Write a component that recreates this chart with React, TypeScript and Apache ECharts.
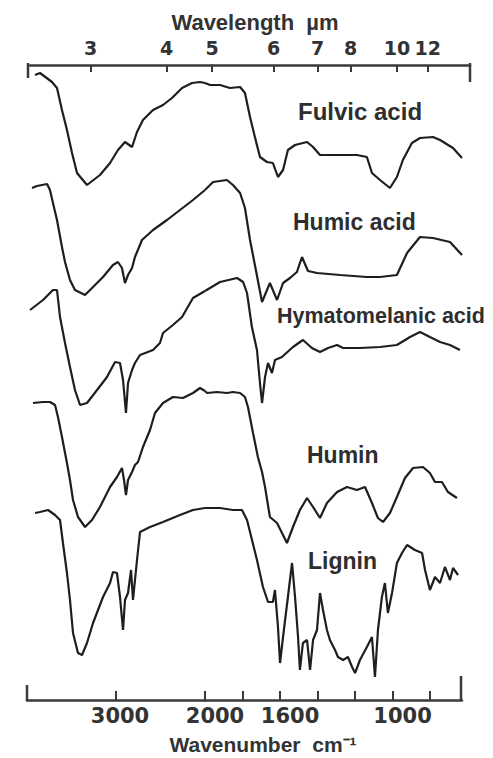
import React, { useEffect, useRef } from "react";
import * as echarts from "echarts";

// Spectra: [wavenumber (cm-1), offset transmittance (arbitrary units)]
const fulvicAcid: number[][] = [
  [3910, 625], [3854, 627], [3719, 618], [3663, 612], [3607, 590], [3551, 570], [3494, 547], [3438, 527],
  [3326, 515], [3180, 525], [3067, 537], [2978, 550], [2899, 558], [2820, 553], [2764, 568], [2697, 580],
  [2584, 590], [2472, 595], [2371, 602], [2258, 612], [2146, 617], [2056, 618], [2000, 617],
  [1973, 615], [1920, 615], [1867, 612], [1813, 613], [1787, 607], [1760, 583], [1734, 563], [1707, 543],
  [1670, 538], [1638, 537], [1611, 523], [1584, 530], [1558, 550], [1520, 555], [1456, 558], [1424, 553],
  [1387, 545], [1296, 545], [1190, 545], [1137, 543], [1110, 527], [1067, 520], [1014, 512], [977, 523],
  [945, 540], [897, 557], [854, 562], [785, 563], [747, 560], [678, 552], [630, 542],
];

const humicAcid: number[][] = [
  [3944, 512], [3888, 514], [3775, 516], [3742, 510], [3708, 497], [3663, 480], [3607, 453], [3573, 438],
  [3517, 420], [3461, 410], [3348, 405], [3258, 413], [3146, 423], [3034, 435], [2978, 438], [2933, 432],
  [2899, 417], [2865, 425], [2820, 432], [2787, 443], [2708, 460], [2584, 470], [2427, 480], [2281, 490],
  [2135, 500], [2000, 510], [1957, 518], [1883, 520], [1851, 515], [1813, 507], [1787, 492], [1760, 460],
  [1734, 435], [1696, 398], [1654, 417], [1616, 400], [1584, 417], [1547, 422], [1510, 428], [1483, 443],
  [1451, 429], [1403, 427], [1280, 425], [1137, 423], [1067, 423], [977, 425], [945, 438], [923, 447],
  [854, 463], [785, 462], [694, 458], [630, 445],
];

const hymatomelanicAcid: number[][] = [
  [3966, 390], [3820, 400], [3708, 410], [3663, 410], [3629, 383], [3573, 357], [3517, 333], [3461, 310],
  [3404, 295], [3326, 297], [3213, 310], [3101, 323], [3011, 338], [2955, 337], [2921, 320], [2888, 287],
  [2865, 317], [2820, 330], [2787, 337], [2730, 345], [2584, 350], [2506, 357], [2472, 367], [2360, 375],
  [2258, 383], [2135, 402], [2000, 409], [1920, 418], [1829, 422], [1797, 418], [1776, 407], [1750, 373],
  [1723, 350], [1707, 317], [1696, 297], [1680, 323], [1664, 337], [1643, 327], [1627, 340], [1590, 343],
  [1531, 353], [1478, 360], [1430, 352], [1387, 348], [1344, 352], [1296, 355], [1264, 352], [1174, 352],
  [1067, 353], [977, 355], [907, 363], [854, 368], [801, 363], [747, 358], [694, 355], [641, 350],
];

const humin: number[][] = [
  [3933, 297], [3820, 298], [3742, 298], [3685, 295], [3652, 283], [3607, 263], [3551, 237], [3517, 220],
  [3483, 200], [3427, 183], [3348, 173], [3270, 180], [3180, 193], [3067, 213], [2989, 223], [2933, 232],
  [2910, 220], [2888, 205], [2865, 220], [2820, 228], [2787, 235], [2753, 238], [2697, 253], [2618, 270],
  [2562, 287], [2472, 297], [2360, 303], [2247, 302], [2135, 307], [2056, 312], [2000, 309], [1989, 307],
  [1936, 308], [1883, 307], [1851, 308], [1813, 307], [1787, 303], [1771, 293], [1744, 267], [1718, 243],
  [1696, 228], [1680, 213], [1654, 183], [1616, 177], [1563, 157], [1531, 173], [1494, 190], [1456, 202],
  [1424, 193], [1387, 182], [1350, 197], [1296, 208], [1243, 213], [1190, 210], [1147, 213], [1110, 197],
  [1078, 182], [1051, 178], [1014, 187], [977, 203], [934, 222], [891, 232], [838, 233], [801, 227],
  [774, 218], [737, 218], [705, 208], [657, 202],
];

const lignin: number[][] = [
  [3910, 187], [3854, 188], [3764, 190], [3685, 185], [3629, 180], [3596, 157], [3551, 127], [3517, 100],
  [3483, 67], [3427, 47], [3382, 45], [3326, 57], [3258, 77], [3146, 103], [3067, 117], [3034, 128],
  [2989, 127], [2955, 103], [2921, 70], [2899, 100], [2865, 107], [2831, 130], [2809, 100], [2764, 140],
  [2730, 168], [2618, 173], [2472, 178], [2281, 185], [2135, 190], [2000, 192], [1920, 192], [1851, 190],
  [1803, 190], [1776, 180], [1760, 168], [1723, 140], [1691, 113], [1664, 98], [1638, 98], [1627, 110],
  [1611, 73], [1600, 37], [1584, 63], [1558, 103], [1536, 137], [1520, 103], [1504, 63], [1494, 30],
  [1478, 57], [1456, 60], [1440, 30], [1424, 60], [1403, 70], [1387, 107], [1371, 90], [1350, 70],
  [1334, 60], [1307, 50], [1291, 43], [1264, 40], [1238, 43], [1216, 33], [1200, 27], [1174, 40],
  [1137, 53], [1110, 63], [1094, 23], [1078, 70], [1057, 103], [1041, 117], [1025, 87], [1003, 107],
  [977, 137], [950, 147], [923, 155], [881, 150], [843, 147], [827, 130], [801, 110], [774, 123],
  [747, 117], [721, 133], [694, 120], [678, 132], [651, 125],
];

const spectrumNames = ["Fulvic acid", "Humic acid", "Hymatomelanic acid", "Humin", "Lignin"];
const spectra = [fulvicAcid, humicAcid, hymatomelanicAcid, humin, lignin];

// Axis ticks
const wavenumberTicksHigh = [3000];
const wavenumberLabelsHigh = [3000];
const wavenumberTicksLow = [2000, 1800, 1600, 1400, 1200, 1000, 800];
const wavenumberLabelsLow = [2000, 1600, 1000];
const wavelengthsHigh = [3, 4]; // µm, region above 2000 cm-1
const wavelengthsLow = [5, 6, 7, 8, 10, 12]; // µm

const toWn = (um: number) => 10000 / um;

export default function App() {
  const ref = useRef<HTMLDivElement>(null);

  useEffect(() => {
    if (!ref.current) return;
    const chart = echarts.init(ref.current, undefined, { renderer: "svg" });

    const axisColor = "#3a3a3a";
    const lineColor = "#1e1e1e";
    const labelFont = "'Liberation Sans', Arial, sans-serif";
    const digitFont = "'DejaVu Sans', sans-serif";

    const yAxes = [0, 1, 2, 3].map((g) => ({
      gridIndex: g,
      type: "value",
      min: 0,
      max: 635,
      show: false,
    }));

    const bottomLabel = {
      fontFamily: digitFont,
      fontWeight: "bold",
      fontSize: 21,
      color: "#333",
      margin: 5,
      formatter: (v: number) => String(Math.round(v)),
    };
    const topLabel = {
      fontFamily: digitFont,
      fontWeight: "bold",
      fontSize: 19,
      color: "#333",
      margin: 8,
      formatter: (v: number) => String(Math.round(10000 / v)),
    };

    const series: any[] = [];
    spectra.forEach((pts, i) => {
      series.push({
        name: spectrumNames[i],
        type: "line",
        xAxisIndex: 0,
        yAxisIndex: 0,
        data: pts.filter((p) => p[0] >= 2000),
        showSymbol: false,
        lineStyle: { color: lineColor, width: 2.2 },
        silent: true,
      });
      series.push({
        name: spectrumNames[i],
        type: "line",
        xAxisIndex: 1,
        yAxisIndex: 1,
        data: pts.filter((p) => p[0] <= 2000),
        showSymbol: false,
        lineStyle: { color: lineColor, width: 2.2 },
        silent: true,
      });
    });

    const spectrumLabels = [
      { text: "Fulvic acid", x: 298, y: 111, size: 24 },
      { text: "Humic acid", x: 293, y: 222, size: 23 },
      { text: "Hymatomelanic acid", x: 277, y: 316, size: 21.5 },
      { text: "Humin", x: 307, y: 455, size: 23 },
      { text: "Lignin", x: 308, y: 561, size: 23 },
    ];

    const bar = (x: number, y1: number, y2: number) => ({
      type: "line",
      shape: { x1: x, y1, x2: x, y2 },
      style: { stroke: axisColor, lineWidth: 2.5 },
      silent: true,
    });

    chart.setOption({
      animation: false,
      backgroundColor: "#ffffff",
      grid: [
        { left: 27, width: 178, top: 65, bottom: 58 },
        { left: 205, width: 257, top: 65, bottom: 58 },
        { left: 30, width: 182, top: 65, bottom: 58 },
        { left: 212, width: 258, top: 65, bottom: 58 },
      ],
      xAxis: [
        {
          gridIndex: 0,
          type: "value",
          min: 2000,
          max: 4000,
          inverse: true,
          position: "bottom",
          axisLine: { show: true, onZero: false, lineStyle: { color: axisColor, width: 2.5 } },
          axisTick: { show: true, inside: true, length: 9, customValues: wavenumberTicksHigh, lineStyle: { color: axisColor, width: 2 } },
          axisLabel: { ...bottomLabel, customValues: wavenumberLabelsHigh, padding: [0, 0, 0, 8] },
          splitLine: { show: false },
        },
        {
          gridIndex: 1,
          type: "value",
          min: 630,
          max: 2000,
          inverse: true,
          position: "bottom",
          axisLine: { show: true, onZero: false, lineStyle: { color: axisColor, width: 2.5 } },
          axisTick: { show: true, inside: true, length: 9, customValues: wavenumberTicksLow, lineStyle: { color: axisColor, width: 2 } },
          axisLabel: { ...bottomLabel, customValues: wavenumberLabelsLow, padding: [0, 0, 0, 20] },
          splitLine: { show: false },
        },
        {
          gridIndex: 2,
          type: "value",
          min: 2000,
          max: 4000,
          inverse: true,
          position: "top",
          axisLine: { show: true, onZero: false, lineStyle: { color: axisColor, width: 2.5 } },
          axisTick: { show: true, inside: true, length: 7, customValues: wavelengthsHigh.map(toWn), lineStyle: { color: axisColor, width: 2 } },
          axisLabel: { ...topLabel, customValues: wavelengthsHigh.map(toWn) },
          splitLine: { show: false },
        },
        {
          gridIndex: 3,
          type: "value",
          min: 605,
          max: 2000,
          inverse: true,
          position: "top",
          axisLine: { show: true, onZero: false, lineStyle: { color: axisColor, width: 2.5 } },
          axisTick: { show: true, inside: true, length: 7, customValues: wavelengthsLow.map(toWn), lineStyle: { color: axisColor, width: 2 } },
          axisLabel: { ...topLabel, customValues: wavelengthsLow.map(toWn) },
          splitLine: { show: false },
        },
      ],
      yAxis: yAxes,
      series,
      graphic: [
        bar(28, 63, 78),
        bar(470, 63, 82),
        bar(27, 685, 701),
        bar(461, 676, 701),
        {
          type: "text",
          x: 255,
          y: 22,
          style: {
            text: "Wavelength  µm",
            fontFamily: labelFont,
            fontWeight: "bold",
            fontSize: 22,
            fill: "#333",
            align: "center",
            verticalAlign: "middle",
          },
        },
        {
          type: "text",
          x: 263,
          y: 744,
          style: {
            text: "Wavenumber  cm⁻¹",
            fontFamily: labelFont,
            fontWeight: "bold",
            fontSize: 21,
            fill: "#333",
            align: "center",
            verticalAlign: "middle",
          },
        },
        ...spectrumLabels.map((l) => ({
          type: "text",
          x: l.x,
          y: l.y,
          style: {
            text: l.text,
            fontFamily: labelFont,
            fontWeight: "bold",
            fontSize: l.size,
            fill: "#2e2e2e",
            align: "left",
            verticalAlign: "middle",
          },
        })),
      ],
    });

    return () => chart.dispose();
  }, []);

  return (
    <div
      ref={ref}
      style={{ position: "fixed", left: 0, top: 0, width: 493, height: 758, background: "#fff" }}
    />
  );
}
